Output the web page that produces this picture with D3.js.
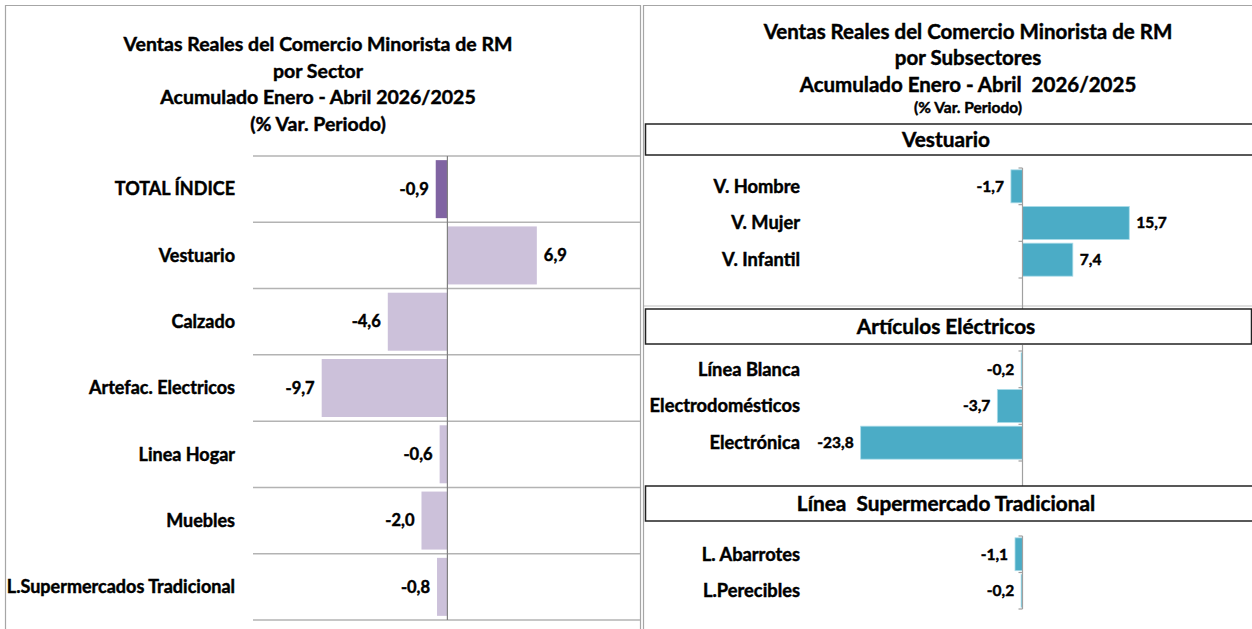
<!DOCTYPE html>
<html>
<head>
<meta charset="utf-8">
<script src="https://cdn.jsdelivr.net/npm/d3@7"></script>
<style>
  html, body { margin: 0; padding: 0; background: #fff; }
  svg { display: block; font-family: Lato, "Liberation Sans", sans-serif; font-weight: bold; }
  svg text { white-space: pre; stroke: #000; stroke-width: 0.45px; fill: #000; }
</style>
</head>
<body>
<svg id="chart" width="1252" height="629"></svg>
<script>
// ---- Data ----
const sectorCategories = ["TOTAL ÍNDICE", "Vestuario", "Calzado", "Artefac. Electricos", "Linea Hogar", "Muebles", "L.Supermercados Tradicional"];
const sectorValues = [-0.9, 6.9, -4.6, -9.7, -0.6, -2.0, -0.8];

const leftTitle = ["Ventas Reales del Comercio Minorista de RM", "por Sector", "Acumulado Enero - Abril 2026/2025", "(% Var. Periodo)"];
const rightTitle = ["Ventas Reales del Comercio Minorista de RM", "por Subsectores", "Acumulado Enero - Abril  2026/2025", "(% Var. Periodo)"];

const vestuarioCategories = ["V. Hombre", "V. Mujer", "V. Infantil"];
const vestuarioValues = [-1.7, 15.7, 7.4];

const electricosCategories = ["Línea Blanca", "Electrodomésticos", "Electrónica"];
const electricosValues = [-0.2, -3.7, -23.8];

const supermercadoCategories = ["L. Abarrotes", "L.Perecibles"];
const supermercadoValues = [-1.1, -0.2];

const groupTitles = ["Vestuario", "Artículos Eléctricos", "Línea  Supermercado Tradicional"];

const fmt = v => d3.format(".1f")(v).replace(".", ",").replace("−", "-");

const svg = d3.select("#chart");

// ---- Panel borders ----
const border = svg.append("g").attr("fill", "none").attr("stroke", "#a6a6a6").attr("stroke-width", 1.2);
border.append("path").attr("d", "M5.5,629 V5.5 H640.5 V629");
border.append("path").attr("d", "M643.5,629 V5.5 H1252");

// ---- Left panel ----
const lt = svg.append("g").attr("text-anchor", "middle").attr("font-size", 19.5);
leftTitle.forEach((t, i) => lt.append("text").attr("x", 318).attr("y", 51 + i * 26.7).text(t));

const xL = d3.scaleLinear().domain([-15, 15]).range([253, 641.8]);
const yL = d3.scaleBand().domain(sectorCategories).range([156, 620]).paddingInner(0.125).paddingOuter(0.0625);

const gridY = sectorCategories.map(c => yL(c) - yL.step() * yL.paddingInner() / 2).concat([620]);
svg.append("g").selectAll("line").data(gridY).join("line")
  .attr("x1", 253).attr("x2", 640).attr("y1", d => d).attr("y2", d => d)
  .attr("stroke", "#b3b3b3").attr("stroke-width", 1.5);

svg.append("g").selectAll("rect").data(sectorValues).join("rect")
  .attr("x", d => xL(Math.min(0, d)))
  .attr("width", d => Math.abs(xL(d) - xL(0)))
  .attr("y", (d, i) => yL(sectorCategories[i]))
  .attr("height", yL.bandwidth())
  .attr("fill", (d, i) => i === 0 ? "#8064A2" : "#CCC1DA");

svg.append("line").attr("x1", xL(0)).attr("x2", xL(0)).attr("y1", 156).attr("y2", 620)
  .attr("stroke", "#808080").attr("stroke-width", 1.2);

svg.append("g").selectAll("text").data(sectorCategories).join("text")
  .attr("x", 235).attr("y", d => yL(d) + yL.bandwidth() / 2).attr("dy", "0.35em")
  .attr("text-anchor", "end").attr("font-size", 18).text(d => d);

svg.append("g").selectAll("text").data(sectorValues).join("text")
  .attr("x", d => d < 0 ? xL(d) - 7 : xL(d) + 7)
  .attr("y", (d, i) => yL(sectorCategories[i]) + yL.bandwidth() / 2).attr("dy", "0.35em")
  .attr("text-anchor", d => d < 0 ? "end" : "start")
  .attr("font-size", 16.5).text(fmt);

// ---- Right panel ----
const rt = svg.append("g").attr("text-anchor", "middle");
rightTitle.forEach((t, i) => rt.append("text").attr("x", 968)
  .attr("y", i < 3 ? 38.5 + i * 26.5 : 113).attr("font-size", i < 3 ? 20.5 : 15.5).text(t));

// separator line below Vestuario chart
svg.append("line").attr("x1", 644).attr("x2", 1252).attr("y1", 306).attr("y2", 306)
  .attr("stroke", "#bfbfbf").attr("stroke-width", 1.2);

const xR = d3.scaleLinear().domain([-30, 25]).range([1022.5 - 30 * 6.8, 1022.5 + 25 * 6.8]);

function section(cats, vals, y0, y1, axisTop, axisBottom) {
  const y = d3.scaleBand().domain(cats).range([y0, y1]).paddingInner(0.1).paddingOuter(0.05);
  const g = svg.append("g");
  g.selectAll("rect").data(vals).join("rect")
    .attr("x", d => xR(Math.min(0, d)))
    .attr("width", d => Math.max(1, Math.abs(xR(d) - xR(0))))
    .attr("y", (d, i) => y(cats[i]))
    .attr("height", y.bandwidth())
    .attr("fill", "#4BACC6").attr("stroke", "#a9dbe8").attr("stroke-width", 0.8);
  g.append("line").attr("x1", xR(0)).attr("x2", xR(0)).attr("y1", axisTop).attr("y2", axisBottom)
    .attr("stroke", "#a0a0a0").attr("stroke-width", 1.2);
  const tickY = d3.range(cats.length + 1).map(i => y0 + (y1 - y0) * i / cats.length);
  g.selectAll("line.tick").data(tickY).join("line").attr("class", "tick")
    .attr("x1", xR(0) - 4).attr("x2", xR(0)).attr("y1", d => d).attr("y2", d => d)
    .attr("stroke", "#a0a0a0").attr("stroke-width", 1.2);
  g.selectAll("text.cat").data(cats).join("text").attr("class", "cat")
    .attr("x", 800).attr("y", d => y(d) + y.bandwidth() / 2).attr("dy", "0.35em")
    .attr("text-anchor", "end").attr("font-size", 18.3).text(d => d);
  g.selectAll("text.val").data(vals).join("text").attr("class", "val")
    .attr("x", d => d < 0 ? xR(d) - 7 : xR(d) + 7)
    .attr("y", (d, i) => y(cats[i]) + y.bandwidth() / 2).attr("dy", "0.35em")
    .attr("text-anchor", d => d < 0 ? "end" : "start")
    .attr("font-size", 15.5).text(fmt);
}

section(vestuarioCategories, vestuarioValues, 168, 278, 168, 309);
section(electricosCategories, electricosValues, 351, 461, 345, 486);
section(supermercadoCategories, supermercadoValues, 536, 609, 536, 609);

// group header boxes
const boxes = [{y: 124, h: 31, w: 620}, {y: 309, h: 35, w: 606}, {y: 486, h: 35, w: 620}];
boxes.forEach((b, i) => {
  svg.append("rect").attr("x", 645.5).attr("y", b.y).attr("width", b.w).attr("height", b.h)
    .attr("fill", "#fff").attr("stroke", "#222").attr("stroke-width", 1.5);
  svg.append("text").attr("x", 946).attr("y", b.y + b.h / 2).attr("dy", "0.36em")
    .attr("text-anchor", "middle").attr("font-size", 20.8).text(groupTitles[i]);
});
</script>
</body>
</html>
